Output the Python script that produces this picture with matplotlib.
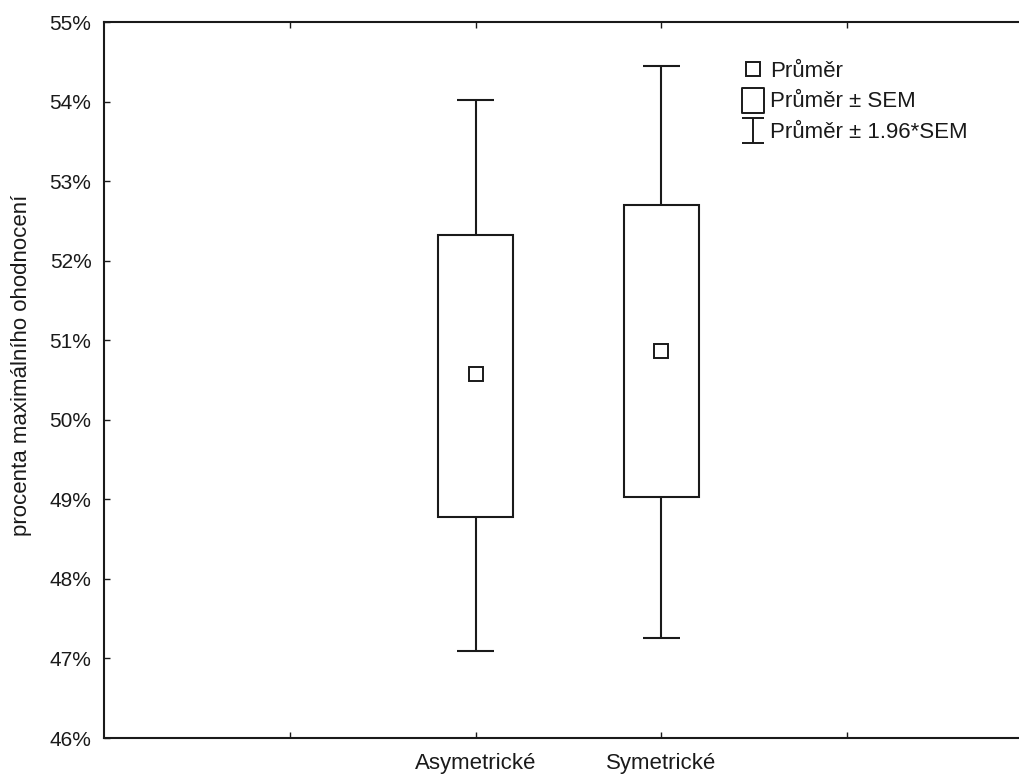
import matplotlib
matplotlib.use('Agg')
import matplotlib.pyplot as plt
from matplotlib.lines import Line2D
from matplotlib.patches import Rectangle
from matplotlib.path import Path
from matplotlib.ticker import FuncFormatter

plt.rcParams['font.family'] = ['Liberation Sans', 'DejaVu Sans']

# data (percent)
groups = ['Asymetrické', 'Symetrické']
positions = [2, 3]
means = [50.57, 50.86]
sem_low = [48.78, 49.03]
sem_high = [52.32, 52.70]
ci_low = [47.09, 47.26]
ci_high = [54.02, 54.45]

fig = plt.figure(figsize=(10.2, 7.76), dpi=100)
ax = fig.add_axes([104/1020, 38/776, 929/1020, 716/776])

col = '#1a1a1a'
box_w = 0.4
cap_w = 0.2
for x, m, sl, sh, cl, ch in zip(positions, means, sem_low, sem_high, ci_low, ci_high):
    ax.add_patch(Rectangle((x - box_w/2, sl), box_w, sh - sl, fc='white', ec=col, lw=1.5, zorder=2))
    ax.vlines(x, sh, ch, color=col, lw=1.5)
    ax.vlines(x, cl, sl, color=col, lw=1.5)
    ax.hlines([ch, cl], x - cap_w/2, x + cap_w/2, color=col, lw=1.5)
    ax.plot(x, m, marker='s', ms=10, mfc='white', mec=col, mew=1.4, zorder=3)

ax.set_xlim(0, 5)
ax.set_ylim(46, 55)
ax.set_xticks([1, 2, 3, 4])
ax.set_xticklabels(['', groups[0], groups[1], ''], fontsize=16)
ax.set_yticks(range(46, 56))
ax.yaxis.set_major_formatter(FuncFormatter(lambda v, p: '%d%%' % v))
ax.tick_params(axis='both', direction='in', length=4, labelsize=15, top=True, right=True, width=1,
               colors=col)
ax.tick_params(axis='x', pad=11, labelsize=16)
ax.tick_params(axis='y', pad=9)
for s in ax.spines.values():
    s.set_linewidth(1.5)
    s.set_color(col)
ax.set_ylabel('procenta maximálního ohodnocení', fontsize=16, color=col)
ax.yaxis.set_label_coords((32 - 104) / 929, 0.52)

rect = Path([(-0.88, -1), (0.88, -1), (0.88, 1), (-0.88, 1), (-0.88, -1)],
            [Path.MOVETO, Path.LINETO, Path.LINETO, Path.LINETO, Path.CLOSEPOLY])
ibar = Path([(-0.88, -1), (0.88, -1), (0, -1), (0, 1), (-0.88, 1), (0.88, 1)],
            [Path.MOVETO, Path.LINETO, Path.MOVETO, Path.LINETO, Path.MOVETO, Path.LINETO])
handles = [
    Line2D([], [], marker='s', ms=10, mfc='white', mec=col, mew=1.4, ls='none'),
    Line2D([], [], marker=rect, ms=18, mfc='white', mec=col, mew=1.4, ls='none'),
    Line2D([], [], marker=ibar, ms=18, mfc='none', mec=col, mew=1.4, ls='none'),
]
labels = ['Průměr', 'Průměr ± SEM', 'Průměr ± 1.96*SEM']
ax.legend(handles, labels, loc='upper left', bbox_to_anchor=((741 - 104) / 929, 1 - (61 - 22) / 716),
          frameon=False, fontsize=16, handlelength=1.05, handletextpad=0.25, labelspacing=0.42,
          borderaxespad=0, borderpad=0, labelcolor=col)

fig.savefig('out.png', dpi=100)
